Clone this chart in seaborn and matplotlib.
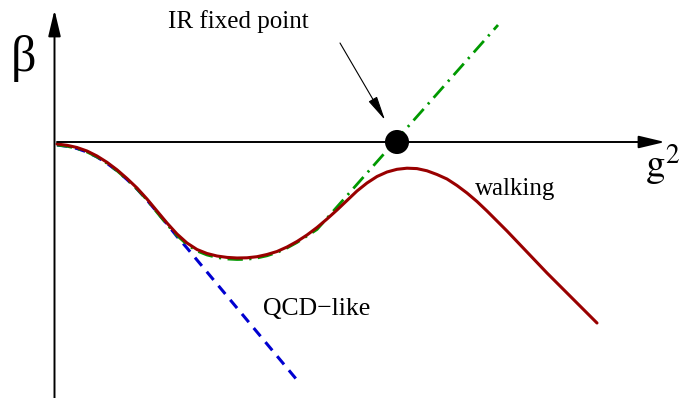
import numpy as np
import pandas as pd
import matplotlib
matplotlib.use('Agg')
import matplotlib.pyplot as plt
import seaborn as sns

# beta function sketch (g^2, beta in arbitrary units)
walk_g2 = [0.02, 0.12, 0.22, 0.32, 0.42, 0.52, 0.62, 0.72, 0.82, 0.92, 1.02, 1.12,
           1.22, 1.32, 1.42, 1.52, 1.62, 1.72, 1.82, 1.92, 2.02, 2.12, 2.22, 2.32,
           2.42, 2.52, 2.62, 2.72, 2.82, 2.92, 3.02, 3.12, 3.22, 3.32, 3.42, 3.52,
           3.62, 3.72, 3.82, 3.92, 4.02, 4.12, 4.22, 4.32, 4.42, 4.52, 4.62, 4.72,
           4.82, 4.92, 5.02, 5.12, 5.22, 5.32, 5.42]
walk_beta = [-0.020, -0.033, -0.055, -0.090, -0.140, -0.203, -0.278, -0.365, -0.460, -0.570,
             -0.690, -0.810, -0.920, -1.010, -1.075, -1.115, -1.140, -1.154, -1.160, -1.158,
             -1.147, -1.125, -1.095, -1.050, -0.995, -0.930, -0.855, -0.770, -0.680, -0.585,
             -0.490, -0.410, -0.345, -0.300, -0.273, -0.262, -0.266, -0.288, -0.325, -0.370,
             -0.435, -0.510, -0.595, -0.690, -0.790, -0.890, -0.995, -1.100, -1.205, -1.310,
             -1.410, -1.510, -1.610, -1.710, -1.810]

qcd_g2 = [0.02, 0.12, 0.22, 0.32, 0.42, 0.52, 0.62, 0.72, 0.82, 0.92, 1.02, 1.12,
          1.22, 1.32, 2.42]
qcd_beta = [-0.030, -0.043, -0.065, -0.100, -0.150, -0.213, -0.288, -0.375, -0.470, -0.580,
            -0.700, -0.820, -0.945, -1.060, -2.380]

ir_g2 = [0.02, 0.12, 0.22, 0.32, 0.42, 0.52, 0.62, 0.72, 0.82, 0.92, 1.02, 1.12,
         1.22, 1.32, 1.42, 1.52, 1.62, 1.72, 1.82, 1.92, 2.02, 2.12, 2.22, 2.32,
         2.42, 2.52, 2.62, 4.43]
ir_beta = [-0.030, -0.043, -0.065, -0.100, -0.150, -0.213, -0.288, -0.375, -0.470, -0.580,
           -0.705, -0.825, -0.935, -1.025, -1.090, -1.130, -1.155, -1.170, -1.175, -1.173,
           -1.160, -1.138, -1.105, -1.060, -1.005, -0.940, -0.875, 1.170]

fixed_g2 = [3.42]
fixed_beta = [0.0]

sns.set_style('white')
plt.rcParams['font.family'] = ['Liberation Serif', 'DejaVu Serif']
plt.rcParams['mathtext.fontset'] = 'stix'
plt.rcParams['text.color'] = 'black'

fig = plt.figure(figsize=(6.81, 3.98), dpi=100)
ax = fig.add_axes([0, 0, 1, 1])

sns.lineplot(x=qcd_g2, y=qcd_beta, sort=False, ax=ax, color='#0000d0', lw=2.2,
             linestyle=(0, (3.5, 2.5)), zorder=2)
sns.lineplot(x=ir_g2, y=ir_beta, sort=False, ax=ax, color='#009900', lw=2.0,
             linestyle=(0, (5.5, 2.3, 0.8, 2.3)), zorder=3)
sns.lineplot(x=walk_g2, y=walk_beta, sort=False, ax=ax, color='#990000', lw=2.2, zorder=4)
sns.scatterplot(x=fixed_g2, y=fixed_beta, ax=ax, s=300, color='black', edgecolor='none', zorder=6)

# axes with arrow heads
arrow_kw = dict(arrowstyle='-|>,head_length=1.6,head_width=0.38', color='black',
                lw=1.4, shrinkA=0, shrinkB=0, mutation_scale=10)
ax.annotate('', xy=(6.10, 0.0), xytext=(0.02, 0.0), arrowprops=arrow_kw, zorder=5)
ax.annotate('', xy=(-0.005, 1.32), xytext=(-0.005, -2.6), arrowprops=arrow_kw, zorder=5)

# pointer to the fixed point
ax.annotate('', xy=(3.30, 0.22), xytext=(2.85, 0.99),
            arrowprops=dict(arrowstyle='-|>,head_length=1.5,head_width=0.3', color='black',
                            lw=0.8, shrinkA=0, shrinkB=0, mutation_scale=10))

ax.text(1.83, 1.14, 'IR fixed point', fontsize=18, ha='center', va='baseline')
ax.text(-0.32, 0.84, '\u03b2', fontsize=36, ha='center', va='center')
ax.text(5.90, -0.35, r'$\mathrm{g}^{2}$', fontsize=28, ha='left', va='baseline')
ax.text(4.20, -0.53, 'walking', fontsize=18, ha='left', va='baseline')
ax.text(2.08, -1.73, 'QCD\u2212like', fontsize=18.5, ha='left', va='baseline')

ax.set_xlim(-0.55, 6.26)
ax.set_ylim(-2.56, 1.42)
ax.set_axis_off()

fig.savefig('out.png', dpi=100)
